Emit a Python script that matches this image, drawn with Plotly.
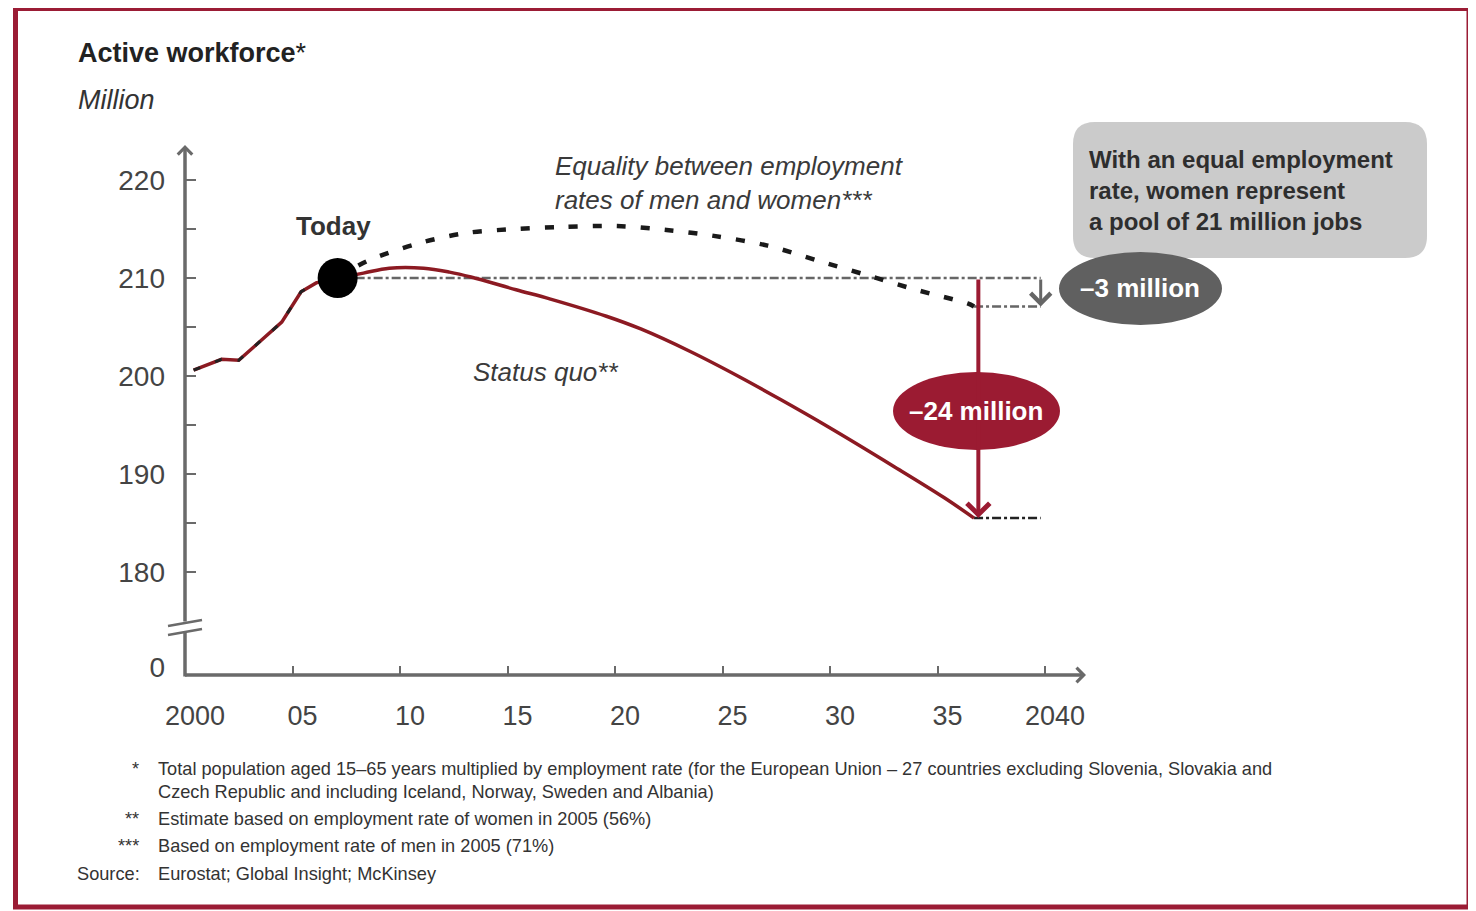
import plotly.graph_objects as go

# ---------------- data ----------------
hist_years = [2000.4, 2001.7, 2002.5, 2003.8, 2004.5, 2005.4, 2006.1, 2007.1]
hist_values = [200.6, 201.7, 201.6, 204.2, 205.5, 208.6, 209.5, 210.0]

sq_years = [2007.1, 2008.3, 2009.5, 2011.1, 2012.3, 2013.3, 2015.4, 2017.0, 2019.6,
            2021.2, 2023.5, 2025.8, 2027.7, 2029.85, 2032.95, 2035.3, 2036.7]
sq_values = [210.0, 210.5, 211.0, 211.0, 210.6, 210.1, 208.8, 207.85, 206.1,
             204.8, 202.5, 199.9, 197.6, 194.9, 190.8, 187.6, 185.5]

eq_years = [2007.1, 2008.45, 2010.8, 2013.1, 2015.4, 2017.5, 2020.1, 2022.4, 2024.6,
            2027.1, 2029.4, 2031.7, 2034.0, 2036.4, 2036.7]
eq_values = [210.0, 211.7, 213.5, 214.6, 215.0, 215.2, 215.3, 214.9, 214.3,
             213.3, 211.8, 210.3, 208.8, 207.4, 207.1]

horizon_year = 2039.8
x_tick_years = [2000, 2005, 2010, 2015, 2020, 2025, 2030, 2035, 2040]
x_tick_labels = ["2000", "05", "10", "15", "20", "25", "30", "35", "2040"]
y_tick_values = [170.3, 180, 190, 200, 210, 220]
y_tick_labels = ["0", "180", "190", "200", "210", "220"]
y_minor_ticks = [180, 185, 190, 195, 200, 205, 210, 215, 220]

# ---------------- layout geometry (screen pixels) ----------------
OFF = 8                      # page body margin
W, H = 1468, 903
PX_PER_YEAR = 21.5
PX_PER_UNIT = 9.8
X0_PX, Y220_PX = 185, 180


def X(px):
    return 2000 + (px - X0_PX) / PX_PER_YEAR


def Y(py):
    return 220 - (py - Y220_PX) / PX_PER_UNIT


def PXF(px):
    return (px - OFF) / W


def PYF(py):
    return 1 - (py - OFF) / H


FONT = "Liberation Sans, Arial, sans-serif"
RED_LINE = "#8c1a22"
RED = "#9b1b32"
AXIS = "#6a6a6a"
TXT = "#333333"

fig = go.Figure()

today_year = hist_years[-1]
today_val = hist_values[-1]

# reference lines
fig.add_trace(go.Scatter(x=[today_year, horizon_year], y=[today_val, today_val], mode="lines",
                         line=dict(color="#666666", width=2.5, dash="9px,3px,3px,3px"),
                         hoverinfo="skip", showlegend=False))
fig.add_trace(go.Scatter(x=[eq_years[-1], horizon_year], y=[eq_values[-1], eq_values[-1]], mode="lines",
                         line=dict(color="#666666", width=2.5, dash="9px,3px,3px,3px"),
                         hoverinfo="skip", showlegend=False))
fig.add_trace(go.Scatter(x=[sq_years[-1], horizon_year], y=[sq_values[-1], sq_values[-1]], mode="lines",
                         line=dict(color="#222222", width=2.5, dash="9px,3px,3px,3px"),
                         hoverinfo="skip", showlegend=False))

# status quo (history + projection)
fig.add_trace(go.Scatter(x=hist_years, y=hist_values, mode="lines",
                         line=dict(color=RED_LINE, width=3.5), hoverinfo="skip", showlegend=False))
fig.add_trace(go.Scatter(x=sq_years, y=sq_values, mode="lines", line_shape="spline",
                         line=dict(color=RED_LINE, width=3.5, smoothing=1.0),
                         hoverinfo="skip", showlegend=False))
# equality scenario (history dashed overlay + projection)
fig.add_trace(go.Scatter(x=hist_years, y=hist_values, mode="lines",
                         line=dict(color="#222222", width=3, dash="7px,16px"),
                         hoverinfo="skip", showlegend=False))
fig.add_trace(go.Scatter(x=eq_years, y=eq_values, mode="lines", line_shape="spline",
                         line=dict(color="#1a1a1a", width=4.5, dash="9px,15px", smoothing=0.9),
                         hoverinfo="skip", showlegend=False))
# today dot
fig.add_trace(go.Scatter(x=[today_year], y=[today_val], mode="markers",
                         marker=dict(color="#000000", size=40), hoverinfo="skip", showlegend=False))

shapes = []
# outer border
shapes.append(dict(type="rect", xref="paper", yref="paper",
                   x0=PXF(15.5), x1=PXF(1469), y0=PYF(8.5), y1=PYF(907),
                   line=dict(color="#9b1c35", width=5), fillcolor="rgba(0,0,0,0)"))
# lower y axis segment (below the break)
shapes.append(dict(type="line", xref="x", yref="y", x0=X(185), x1=X(185), y0=Y(676.5), y1=Y(631),
                   line=dict(color=AXIS, width=3.5)))
# break marks
shapes.append(dict(type="line", xref="x", yref="y", x0=X(168), x1=X(202), y0=Y(626), y1=Y(620),
                   line=dict(color=AXIS, width=2.5)))
shapes.append(dict(type="line", xref="x", yref="y", x0=X(168), x1=X(202), y0=Y(635), y1=Y(629),
                   line=dict(color=AXIS, width=2.5)))


def rounded_path(x0, y0, x1, y1, r):
    pts = [("M", [(x0 + r, y0)]), ("L", [(x1 - r, y0)]), ("Q", [(x1, y0), (x1, y0 + r)]),
           ("L", [(x1, y1 - r)]), ("Q", [(x1, y1), (x1 - r, y1)]), ("L", [(x0 + r, y1)]),
           ("Q", [(x0, y1), (x0, y1 - r)]), ("L", [(x0, y0 + r)]), ("Q", [(x0, y0), (x0 + r, y0)])]
    s = ""
    for cmd, ps in pts:
        s += cmd + " " + " ".join(f"{X(a):.4f},{Y(b):.4f}" for a, b in ps) + " "
    return s + "Z"


# gray info box
shapes.append(dict(type="path", xref="x", yref="y", path=rounded_path(1073, 122, 1427, 258, 22),
                   fillcolor="#cbcbcb", line=dict(width=0)))
# ellipses
shapes.append(dict(type="circle", xref="x", yref="y", x0=X(1059), x1=X(1222), y0=Y(252), y1=Y(325),
                   fillcolor="#606060", line=dict(width=0)))
shapes.append(dict(type="circle", xref="x", yref="y", x0=X(893), x1=X(1060), y0=Y(372), y1=Y(450),
                   fillcolor=RED, line=dict(width=0)))

annotations = []
# axes arrows
annotations.append(dict(x=X(185), y=Y(145), ax=X(185), ay=Y(623), xref="x", yref="y", axref="x", ayref="y",
                        text="", showarrow=True, arrowhead=4, arrowsize=0.8, arrowwidth=3.5,
                        arrowcolor=AXIS, standoff=0, startstandoff=0))
annotations.append(dict(x=X(1086), y=Y(675), ax=X(183.5), ay=Y(675), xref="x", yref="y", axref="x", ayref="y",
                        text="", showarrow=True, arrowhead=4, arrowsize=0.8, arrowwidth=3.5,
                        arrowcolor=AXIS, standoff=0, startstandoff=0))
# change arrows
annotations.append(dict(x=2036.9, y=sq_values[-1], ax=2036.9, ay=today_val, xref="x", yref="y",
                        axref="x", ayref="y", text="", showarrow=True, arrowhead=4, arrowsize=1.1,
                        arrowwidth=4, arrowcolor=RED, standoff=0))
annotations.append(dict(x=horizon_year, y=eq_values[-1], ax=horizon_year, ay=today_val, xref="x", yref="y",
                        axref="x", ayref="y", text="", showarrow=True, arrowhead=4, arrowsize=1.3,
                        arrowwidth=3, arrowcolor="#666666", standoff=0))


def txt(px, py, text, size, color=TXT, anchor="left", yanchor="middle", **kw):
    annotations.append(dict(x=X(px), y=Y(py), xref="x", yref="y", text=text, showarrow=False,
                            xanchor=anchor, yanchor=yanchor, align=kw.pop("align", "left"),
                            font=dict(family=FONT, size=size, color=color), **kw))


txt(76, 53, "<b>Active workforce</b>*", 27, color="#222222")
txt(76, 100, "<i>Million</i>", 27, color="#333333")
txt(333, 226, "<b>Today</b>", 26, anchor="center")
txt(553, 183, "<i>Equality between employment<br>rates of men and women***</i>", 26, color="#3a3a3a")
txt(471, 372, "<i>Status quo**</i>", 26, color="#3a3a3a")
txt(1087, 190, "<b>With an equal employment<br>rate, women represent<br>a pool of 21 million jobs</b>", 24,
    color="#2e2e2e")
txt(976, 411, "<b>–24 million</b>", 26, color="#ffffff", anchor="center", align="center")
txt(1140, 288, "<b>–3 million</b>", 26, color="#ffffff", anchor="center", align="center")

# footnotes
FN = 18.2
txt(141, 769, "*", FN, anchor="right")
txt(156, 769, "Total population aged 15–65 years multiplied by employment rate (for the European Union – 27 countries excluding Slovenia, Slovakia and", FN)
txt(156, 792, "Czech Republic and including Iceland, Norway, Sweden and Albania)", FN)
txt(141, 819, "**", FN, anchor="right")
txt(156, 819, "Estimate based on employment rate of women in 2005 (56%)", FN)
txt(141, 846, "***", FN, anchor="right")
txt(156, 846, "Based on employment rate of men in 2005 (71%)", FN)
txt(75, 874, "Source:", FN)
txt(156, 874, "Eurostat; Global Insight; McKinsey", FN)

fig.update_layout(
    width=W, height=H, margin=dict(l=0, r=0, t=0, b=0, autoexpand=False),
    paper_bgcolor="white", plot_bgcolor="white", showlegend=False,
    shapes=shapes, annotations=annotations,
    xaxis=dict(domain=[0, 1], range=[X(OFF), X(OFF + W)], anchor="free", position=PYF(675),
               showgrid=False, zeroline=False, showline=False, ticks="",
               tickmode="array", tickvals=x_tick_years, ticktext=x_tick_labels,
               ticklabelshift=10, ticklabelstandoff=22,
               tickfont=dict(family=FONT, size=27, color="#444444"),
               minor=dict(tickmode="array", tickvals=x_tick_years[1:], ticks="inside",
                          ticklen=9, tickwidth=2, tickcolor=AXIS, showgrid=False),
               fixedrange=True),
    yaxis=dict(domain=[0, 1], range=[Y(OFF + H), Y(OFF)], anchor="free", position=PXF(X0_PX),
               showgrid=False, zeroline=False, showline=False, ticks="",
               tickmode="array", tickvals=y_tick_values, ticktext=y_tick_labels,
               ticklabelstandoff=20,
               tickfont=dict(family=FONT, size=28, color="#444444"),
               minor=dict(tickmode="array", tickvals=y_minor_ticks, ticks="inside",
                          ticklen=10, tickwidth=2, tickcolor=AXIS, showgrid=False),
               fixedrange=True),
)

fig.write_html("out.html")
